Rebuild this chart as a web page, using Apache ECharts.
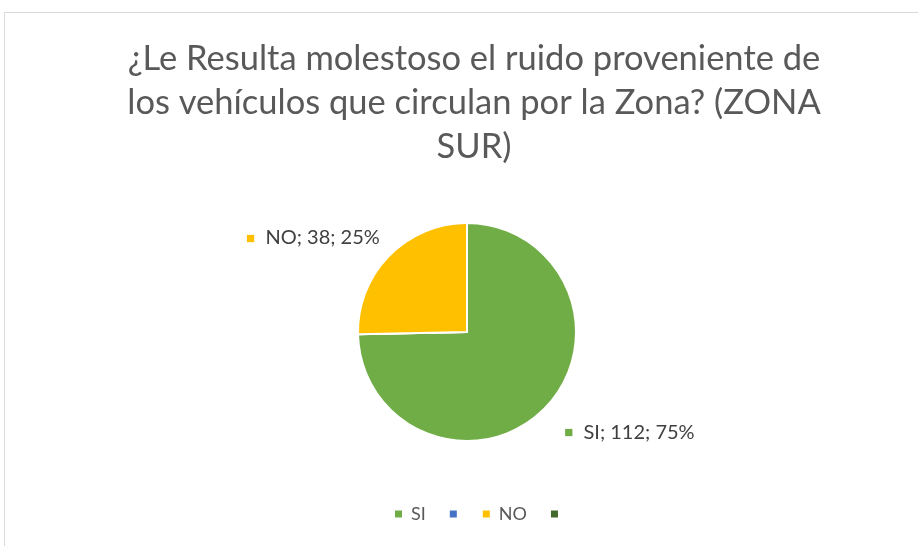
<!DOCTYPE html>
<html>
<head>
<meta charset="utf-8">
<script src="https://cdn.jsdelivr.net/npm/echarts@6/dist/echarts.min.js"></script>
<style>
  html, body { margin: 0; padding: 0; background: #fff; }
  #chart { width: 918px; height: 546px; }
</style>
</head>
<body>
<div id="chart"></div>
<script>
const categories = ['SI', 'Serie 2', 'NO', 'Serie 4']
const legendLabels = ['SI', '', 'NO', '']
const values = [112, 0, 38, 0]
const colors = ['#70AD47', '#4472C4', '#FFC000', '#43682B']

const chart = echarts.init(document.getElementById('chart'))
const font = 'Lato, "Open Sans", sans-serif'

const option = {
  animation: false,
  title: {
    text: '¿Le Resulta molestoso el ruido proveniente de\nlos vehículos que circulan por la Zona? (ZONA\nSUR)',
    left: 469,
    textAlign: 'center',
    top: 32,
    textStyle: {
      fontFamily: font,
      fontSize: 34.5,
      fontWeight: 'normal',
      color: '#595959',
      lineHeight: 44,
      align: 'center'
    }
  },
  graphic: [{
    type: 'rect',
    shape: { x: 4.5, y: 12.5, width: 1000, height: 1000 },
    style: { fill: 'none', stroke: '#d9d9d9', lineWidth: 1 },
    silent: true
  }],
  legend: {
    bottom: 18,
    left: 388,
    itemWidth: 9,
    itemHeight: 9,
    itemGap: 22,
    icon: 'rect',
    data: categories,
    formatter: name => legendLabels[categories.indexOf(name)],
    textStyle: { fontFamily: font, fontSize: 18, color: '#595959', padding: [0, 0, 0, 3] }
  },
  series: [{
    type: 'pie',
    center: [467, 332],
    radius: 109,
    startAngle: 90,
    clockwise: true,
    itemStyle: { borderColor: '#fff', borderWidth: 2 },
    labelLine: { show: false, length: 34, length2: 0 },
    label: {
      position: 'outside',
      fontFamily: font,
      fontSize: 20,
      color: '#404040',
      distanceToLabelLine: 0
    },
    labelLayout: p => p.dataIndex === 2 ? { dx: 15, dy: 6 } : { dx: -5, dy: 0 },
    data: categories.map((c, i) => ({
      name: c,
      value: values[i],
      itemStyle: { color: colors[i] },
      label: {
        show: values[i] > 0,
        formatter: p => '{m|■}  ' + p.name + '; ' + p.value + '; ' + Math.round(p.percent) + '%',
        rich: {
          m: { color: colors[i], fontSize: 15, fontFamily: font }
        }
      }
    }))
  }]
}

chart.setOption(option)
</script>
</body>
</html>
